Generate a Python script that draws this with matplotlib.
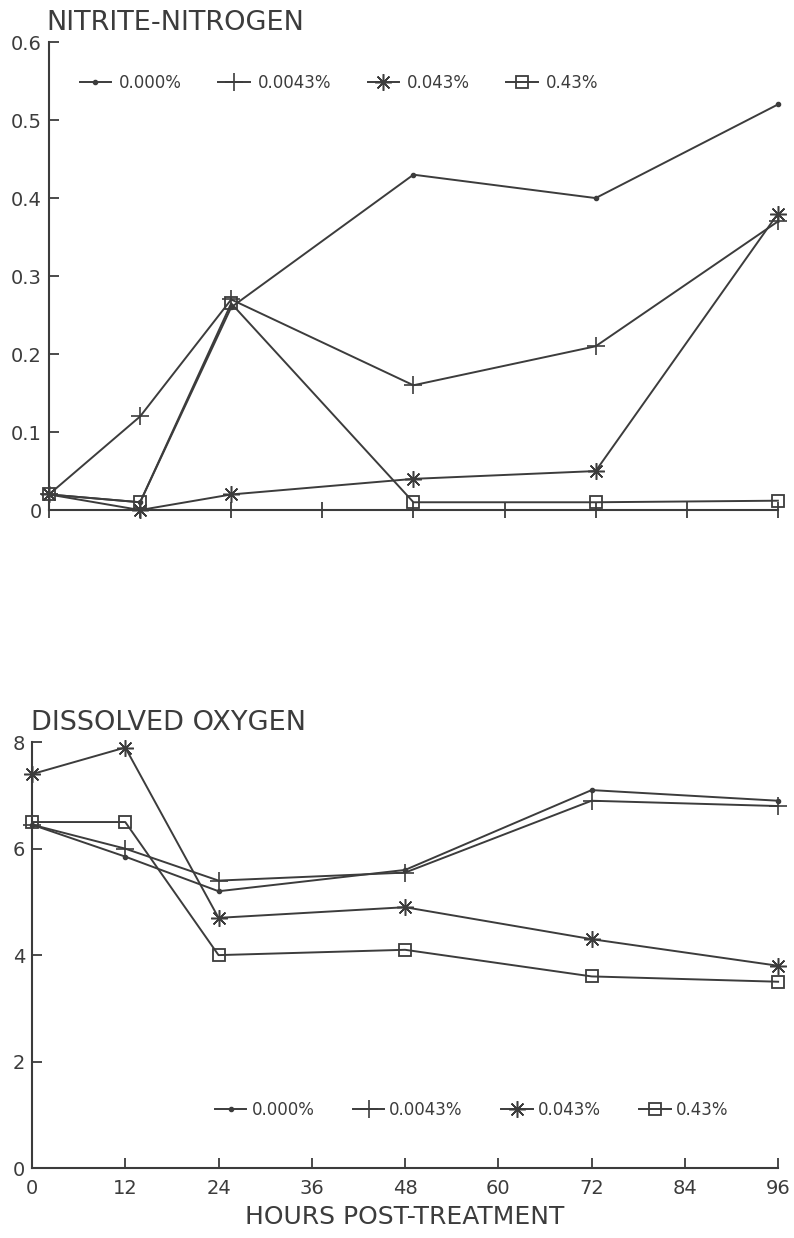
import matplotlib
matplotlib.use('Agg')
import matplotlib.pyplot as plt

plt.rcParams['font.family'] = ['DejaVu Sans']

hours = [0, 12, 24, 48, 72, 96]
labels = ['0.000%', '0.0043%', '0.043%', '0.43%']

# nitrite-nitrogen
no2_000 = [0.02, 0.01, 0.26, 0.43, 0.40, 0.52]
no2_0043 = [0.02, 0.12, 0.27, 0.16, 0.21, 0.37]
no2_043 = [0.02, 0.0, 0.02, 0.04, 0.05, 0.38]
no2_43 = [0.02, 0.01, 0.265, 0.01, 0.01, 0.012]

# dissolved oxygen
do_000 = [6.45, 5.85, 5.2, 5.6, 7.1, 6.9]
do_0043 = [6.45, 6.0, 5.4, 5.55, 6.9, 6.8]
do_043 = [7.4, 7.9, 4.7, 4.9, 4.3, 3.8]
do_43 = [6.5, 6.5, 4.0, 4.1, 3.6, 3.5]

c = '#3c3c3c'
styles = [dict(marker='o', ms=3),
          dict(marker='+', ms=13, mew=1.2),
          dict(marker=(8, 2, 0), ms=12, mew=1.1),
          dict(marker='s', ms=9, mfc='none', mew=1.3)]

fig = plt.figure(figsize=(7.94, 12.38), dpi=100)
ax1 = fig.add_axes([0.0617, 0.588, 0.918, 0.378])
ax2 = fig.add_axes([0.0403, 0.0565, 0.9397, 0.344])

for ax, series in [(ax1, [no2_000, no2_0043, no2_043, no2_43]),
                   (ax2, [do_000, do_0043, do_043, do_43])]:
    for s, lab, st in zip(series, labels, styles):
        ax.plot(hours, s, color=c, lw=1.4, label=lab, clip_on=False, **st)
    ax.spines['top'].set_visible(False)
    ax.spines['right'].set_visible(False)
    ax.spines['left'].set_color(c)
    ax.spines['bottom'].set_color(c)
    ax.spines['left'].set_linewidth(1.5)
    ax.spines['bottom'].set_linewidth(1.5)
    ax.set_xlim(0, 96)
    ax.set_xticks(range(0, 97, 12))
    ax.tick_params(direction='in', color=c, labelcolor=c, labelsize=14,
                   length=7, width=1.3, pad=5)

ax1.set_ylim(0, 0.6)
ax1.set_yticks([0, 0.1, 0.2, 0.3, 0.4, 0.5, 0.6])
ax1.set_yticklabels(['0', '0.1', '0.2', '0.3', '0.4', '0.5', '0.6'])
ax1.tick_params(axis='x', direction='inout', labelbottom=False, length=12)
ax1.set_title('NITRITE-NITROGEN', loc='left', fontsize=19.5, color=c, x=-0.003, pad=9)
ax1.legend(loc='center left', bbox_to_anchor=(0.042, 0.912), ncol=4, frameon=False,
           fontsize=12, handlelength=1.9, columnspacing=2.2, handletextpad=0.45,
           borderpad=0, borderaxespad=0, labelcolor=c)

ax2.set_ylim(0, 8)
ax2.set_yticks([0, 2, 4, 6, 8])
ax2.tick_params(axis='x', pad=8)
ax2.set_xlabel('HOURS POST-TREATMENT', fontsize=18, color=c, labelpad=5)
ax2.set_title('DISSOLVED OXYGEN', loc='left', fontsize=19.5, color=c, x=-0.002, pad=9)
ax2.legend(loc='center left', bbox_to_anchor=(0.245, 0.136), ncol=4, frameon=False,
           fontsize=12, handlelength=1.9, columnspacing=2.3, handletextpad=0.3,
           borderpad=0, borderaxespad=0, labelcolor=c)

fig.savefig('out.png', dpi=100)
